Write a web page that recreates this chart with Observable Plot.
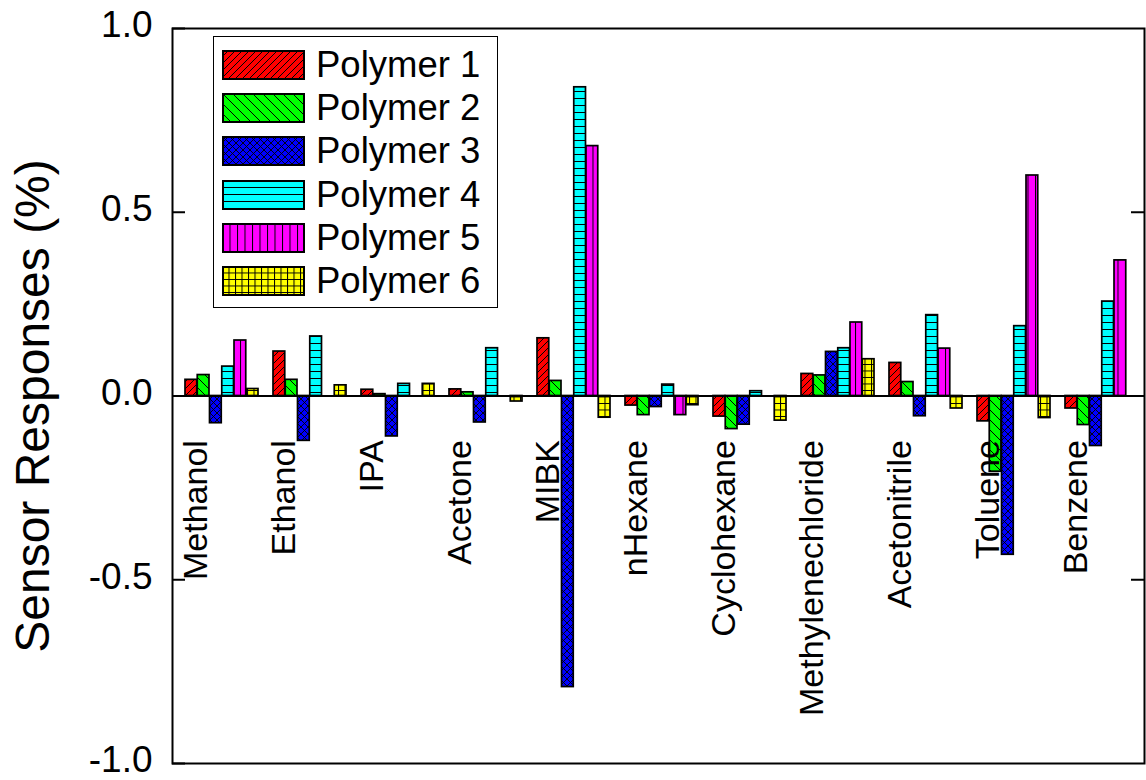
<!DOCTYPE html>
<html>
<head>
<meta charset="utf-8">
<script src="https://cdn.jsdelivr.net/npm/d3@7"></script>
<script src="https://cdn.jsdelivr.net/npm/@observablehq/plot@0.6"></script>
<style>
  body { margin: 0; background: white; }
  #wrap { position: relative; width: 1146px; height: 780px; font-family: "Liberation Sans", Arial, sans-serif; }
  #legend { position: absolute; left: 213px; top: 36px; width: 283px; height: 270px; border: 1.5px solid black; background: white; }
  .row { position: absolute; left: 8px; height: 30px; display: flex; align-items: center; }
  .row svg { display: block; }
  .row span { margin-left: 11px; font-size: 36.5px; line-height: 30px; color: black; white-space: nowrap; }
</style>
</head>
<body>
<svg width="0" height="0" style="position:absolute">
  <defs>
    <pattern id="pat1" patternUnits="userSpaceOnUse" width="7" height="7">
      <rect width="7" height="7" fill="#ff0000"/>
      <path d="M-1,1 l2,-2 M0,7 l7,-7 M6,8 l2,-2" stroke="black" stroke-width="1"/>
    </pattern>
    <pattern id="pat2" patternUnits="userSpaceOnUse" width="10" height="10">
      <rect width="10" height="10" fill="#00ff00"/>
      <path d="M-1,9 l2,2 M0,0 l10,10 M9,-1 l2,2" stroke="black" stroke-width="1"/>
    </pattern>
    <pattern id="pat3" patternUnits="userSpaceOnUse" width="7" height="7">
      <rect width="7" height="7" fill="#0000ff"/>
      <path d="M-1,1 l2,-2 M0,7 l7,-7 M6,8 l2,-2" stroke="black" stroke-width="0.9"/>
      <path d="M-1,6 l2,2 M0,0 l7,7 M6,-1 l2,2" stroke="black" stroke-width="0.9"/>
    </pattern>
    <pattern id="pat4" patternUnits="userSpaceOnUse" width="8" height="7">
      <rect width="8" height="7" fill="#00ffff"/>
      <path d="M0,0.5 h8" stroke="black" stroke-width="1"/>
    </pattern>
    <pattern id="pat5" patternUnits="userSpaceOnUse" width="7.5" height="8">
      <rect width="7.5" height="8" fill="#ff00ff"/>
      <path d="M0.5,0 v8" stroke="black" stroke-width="1"/>
    </pattern>
    <pattern id="pat6" patternUnits="userSpaceOnUse" width="6.5" height="6.5">
      <rect width="6.5" height="6.5" fill="#ffff00"/>
      <path d="M0.5,0 v6.5 M0,0.5 h6.5" stroke="black" stroke-width="1"/>
    </pattern>
  </defs>
</svg>
<div id="wrap">
  <div id="chart"></div>
  <div id="legend"></div>
</div>
<script>
// Solvents tested against the sensor array
const solvents = ["Methanol", "Ethanol", "IPA", "Acetone", "MIBK", "nHexane", "Cyclohexane",
  "Methylenechloride", "Acetonitrile", "Toluene", "Benzene"];

// Sensor response (%) of each polymer coating, one value per solvent (null = no response bar)
const polymer1 = [0.044, 0.121, 0.017, 0.018, 0.157, -0.026, -0.056, 0.060, 0.090, -0.069, -0.034];
const polymer2 = [0.057, 0.044, 0.005, 0.010, 0.041, -0.052, -0.090, 0.056, 0.038, -0.206, -0.079];
const polymer3 = [-0.074, -0.122, -0.110, -0.072, -0.792, -0.030, -0.078, 0.120, -0.055, -0.432, -0.136];
const polymer4 = [0.080, 0.162, 0.033, 0.130, 0.840, 0.031, 0.013, 0.130, 0.220, 0.190, 0.257];
const polymer5 = [0.151, null, null, null, 0.680, -0.052, null, 0.200, 0.129, 0.600, 0.369];
const polymer6 = [0.019, 0.029, 0.033, -0.015, -0.059, -0.025, -0.067, 0.100, -0.034, -0.060, null];

const seriesNames = ["Polymer 1", "Polymer 2", "Polymer 3", "Polymer 4", "Polymer 5", "Polymer 6"];
const seriesValues = [polymer1, polymer2, polymer3, polymer4, polymer5, polymer6];
const patterns = ["url(#pat1)", "url(#pat2)", "url(#pat3)", "url(#pat4)", "url(#pat5)", "url(#pat6)"];

const yTicks = [-1, -0.5, 0, 0.5, 1];

// Layout of the band scale: each solvent band holds six adjacent bars
const W = 1146, H = 780;
const mLeft = 172, mRight = 2, mTop = 28, mBottom = 17;
const padInner = 0.171, padOuter = 0.0665, bandAlign = 0.68;
const step = (W - mLeft - mRight) / (solvents.length - padInner + 2 * padOuter);
const bandwidth = step * (1 - padInner);
const barW = bandwidth / seriesNames.length;

const barMarks = seriesValues.map((vals, s) =>
  Plot.barY(
    solvents.map((name, i) => ({solvent: name, value: vals[i]})).filter(d => d.value != null),
    {
      x: "solvent",
      y: "value",
      fill: patterns[s],
      stroke: "black",
      strokeWidth: 1.7,
      insetLeft: s * barW,
      insetRight: (seriesNames.length - 1 - s) * barW
    }
  )
);

const chart = Plot.plot({
  width: W,
  height: H,
  marginLeft: mLeft,
  marginRight: mRight,
  marginTop: mTop,
  marginBottom: mBottom,
  style: {fontFamily: "'Liberation Sans', Arial, sans-serif", background: "white", color: "black"},
  x: {type: "band", domain: solvents, paddingInner: padInner, paddingOuter: padOuter, align: bandAlign, axis: null},
  y: {domain: [-1, 1]},
  marks: [
    ...barMarks,
    Plot.ruleY([0], {stroke: "black", strokeWidth: 2}),
    Plot.frame({stroke: "black", strokeWidth: 2}),
    // inward ticks on the left, value labels outside
    Plot.axisY({ticks: yTicks, tickSize: -13, tickFormat: () => "", label: null, strokeWidth: 2}),
    Plot.axisY({ticks: yTicks, tickSize: 0, tickPadding: 20, tickFormat: d => d.toFixed(1), fontSize: 37, dy: -3, label: null}),
    // inward ticks on the right side
    Plot.axisY({anchor: "right", ticks: [-0.5, 0.5], tickSize: -14, tickFormat: () => "", label: null, strokeWidth: 2}),
    Plot.text(["Sensor Responses (%)"], {frameAnchor: "left", textAnchor: "middle", rotate: -90, dx: -139, dy: 10, fontSize: 48}),
    // solvent names, written upward below the zero line
    Plot.text(solvents, {x: d => d, y: -0.12, rotate: -90, textAnchor: "end", dx: -(bandwidth / 2 - 11), fontSize: 34})
  ]
});
document.getElementById("chart").appendChild(chart);

// Legend box with pattern swatches
const legend = d3.select("#legend");
seriesNames.forEach((name, s) => {
  const row = legend.append("div").attr("class", "row").style("top", `${13 + s * 43.2}px`);
  const sw = row.append("svg").attr("width", 83).attr("height", 30);
  sw.append("rect").attr("x", 1).attr("y", 1).attr("width", 81).attr("height", 28)
    .attr("fill", patterns[s]).attr("stroke", "black").attr("stroke-width", 2);
  row.append("span").text(name);
});
</script>
</body>
</html>
